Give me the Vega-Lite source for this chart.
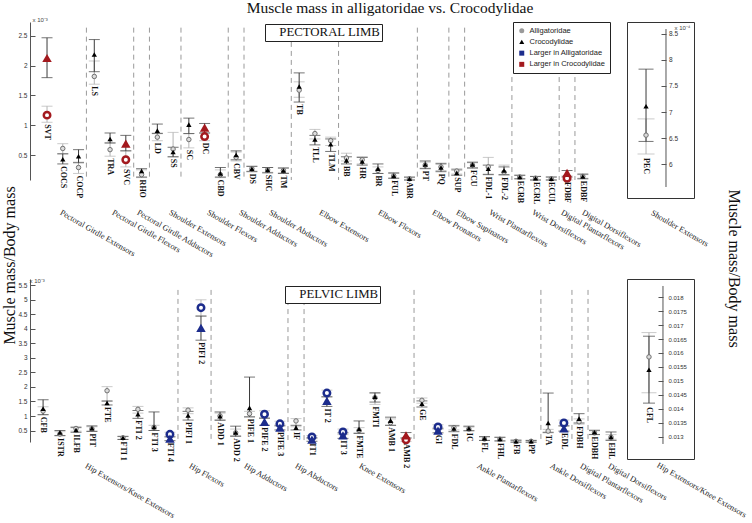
{
"$schema":"https://vega.github.io/schema/vega-lite/v6.json",
"padding":{"left":1,"top":0,"right":0,"bottom":0},
"background":"white",
"title":{"text":"Muscle mass in alligatoridae vs. Crocodylidae","anchor":"start","align":"center","frame":"group","dx":360,"offset":-12,"baseline":"alphabetic","font":"Liberation Serif","fontSize":15.5,"fontWeight":"normal","color":"#111"},
"columns":2,
"spacing":{"row":81,"column":27},
"bounds":"flush",
"align":"each",
"resolve":{"scale":{"color":"independent","shape":"independent","fill":"independent"}},
"config":{"view":{"stroke":null},"axis":{"labelOverlap":false,"labelBound":false}},
"datasets":{
"top":[
{"m":"SVT","pos":1,"a":1.17,"aLo":1.05,"aHi":1.32,"c":2.13,"cLo":1.80,"cHi":2.47,"sig":"Larger in Crocodylidae"},
{"m":"COCS","pos":2,"a":0.61,"aLo":0.52,"aHi":0.69,"c":0.43,"cLo":0.35,"cHi":0.52,"sig":""},
{"m":"COCP","pos":3,"a":0.29,"aLo":0.19,"aHi":0.38,"c":0.48,"cLo":0.37,"cHi":0.59,"sig":""},
{"m":"LS","pos":4,"a":1.82,"aLo":1.69,"aHi":2.08,"c":2.19,"cLo":1.90,"cHi":2.44,"sig":""},
{"m":"TRA","pos":5,"a":0.59,"aLo":0.48,"aHi":0.71,"c":0.77,"cLo":0.70,"cHi":0.87,"sig":""},
{"m":"SVC","pos":6,"a":0.42,"aLo":0.30,"aHi":0.57,"c":0.69,"cLo":0.57,"cHi":0.83,"sig":"Larger in Crocodylidae"},
{"m":"RHO","pos":7,"a":0.17,"aLo":0.12,"aHi":0.25,"c":0.23,"cLo":0.13,"cHi":0.27,"sig":""},
{"m":"LD","pos":8,"a":0.80,"aLo":0.74,"aHi":0.87,"c":0.91,"cLo":0.86,"cHi":1.02,"sig":""},
{"m":"SS","pos":9,"a":0.60,"aLo":0.47,"aHi":0.88,"c":0.55,"cLo":0.47,"cHi":0.63,"sig":""},
{"m":"SC","pos":10,"a":0.76,"aLo":0.62,"aHi":0.86,"c":1.01,"cLo":0.86,"cHi":1.12,"sig":""},
{"m":"DC","pos":11,"a":0.81,"aLo":0.74,"aHi":0.87,"c":0.96,"cLo":0.87,"cHi":1.03,"sig":"Larger in Crocodylidae"},
{"m":"CBD","pos":12,"a":0.17,"aLo":0.12,"aHi":0.25,"c":0.19,"cLo":0.13,"cHi":0.29,"sig":""},
{"m":"CBV","pos":13,"a":0.46,"aLo":0.40,"aHi":0.55,"c":0.50,"cLo":0.42,"cHi":0.57,"sig":""},
{"m":"DS","pos":14,"a":0.27,"aLo":0.23,"aHi":0.31,"c":0.27,"cLo":0.22,"cHi":0.31,"sig":""},
{"m":"SHC","pos":15,"a":0.25,"aLo":0.21,"aHi":0.29,"c":0.25,"cLo":0.20,"cHi":0.29,"sig":""},
{"m":"TM","pos":16,"a":0.24,"aLo":0.20,"aHi":0.28,"c":0.24,"cLo":0.19,"cHi":0.28,"sig":""},
{"m":"TB","pos":17,"a":1.59,"aLo":1.47,"aHi":1.73,"c":1.65,"cLo":1.39,"cHi":1.88,"sig":""},
{"m":"TLL","pos":18,"a":0.86,"aLo":0.77,"aHi":0.93,"c":0.76,"cLo":0.67,"cHi":0.83,"sig":""},
{"m":"TLM","pos":19,"a":0.74,"aLo":0.66,"aHi":0.80,"c":0.68,"cLo":0.56,"cHi":0.77,"sig":""},
{"m":"BB","pos":20,"a":0.45,"aLo":0.40,"aHi":0.53,"c":0.41,"cLo":0.35,"cHi":0.47,"sig":""},
{"m":"HR","pos":21,"a":0.42,"aLo":0.35,"aHi":0.47,"c":0.39,"cLo":0.33,"cHi":0.46,"sig":""},
{"m":"BR","pos":22,"a":0.24,"aLo":0.19,"aHi":0.30,"c":0.27,"cLo":0.19,"cHi":0.35,"sig":""},
{"m":"FUL","pos":23,"a":0.15,"aLo":0.11,"aHi":0.19,"c":0.15,"cLo":0.11,"cHi":0.20,"sig":""},
{"m":"ABR","pos":24,"a":0.10,"aLo":0.08,"aHi":0.12,"c":0.10,"cLo":0.08,"cHi":0.13,"sig":""},
{"m":"PT","pos":25,"a":0.33,"aLo":0.28,"aHi":0.38,"c":0.34,"cLo":0.27,"cHi":0.40,"sig":""},
{"m":"PQ","pos":26,"a":0.30,"aLo":0.24,"aHi":0.34,"c":0.29,"cLo":0.22,"cHi":0.36,"sig":""},
{"m":"SUP","pos":27,"a":0.23,"aLo":0.18,"aHi":0.27,"c":0.20,"cLo":0.16,"cHi":0.25,"sig":""},
{"m":"FCU","pos":28,"a":0.33,"aLo":0.29,"aHi":0.37,"c":0.34,"cLo":0.28,"cHi":0.38,"sig":""},
{"m":"FDL-1","pos":29,"a":0.30,"aLo":0.18,"aHi":0.46,"c":0.27,"cLo":0.17,"cHi":0.33,"sig":""},
{"m":"FDL-2","pos":30,"a":0.21,"aLo":0.16,"aHi":0.33,"c":0.24,"cLo":0.17,"cHi":0.30,"sig":""},
{"m":"ECRB","pos":31,"a":0.13,"aLo":0.10,"aHi":0.16,"c":0.13,"cLo":0.10,"cHi":0.16,"sig":""},
{"m":"ECRL","pos":32,"a":0.11,"aLo":0.08,"aHi":0.14,"c":0.11,"cLo":0.08,"cHi":0.14,"sig":""},
{"m":"ECUL","pos":33,"a":0.10,"aLo":0.08,"aHi":0.13,"c":0.10,"cLo":0.08,"cHi":0.13,"sig":""},
{"m":"FDBF","pos":34,"a":0.11,"aLo":0.08,"aHi":0.15,"c":0.20,"cLo":0.13,"cHi":0.24,"sig":"Larger in Crocodylidae"},
{"m":"EDBF","pos":35,"a":0.14,"aLo":0.11,"aHi":0.17,"c":0.14,"cLo":0.10,"cHi":0.18,"sig":""}
],
"topSeps":[{"pos":3.5,"top":2.64},{"pos":6.5,"top":2.64},{"pos":7.5,"top":2.64},{"pos":9.5,"top":2.64},{"pos":12.5,"top":2.64},{"pos":13.5,"top":2.64},{"pos":16.5,"top":2.40},{"pos":19.5,"top":2.40},{"pos":24.5,"top":2.64},{"pos":26.5,"top":2.64},{"pos":27.5,"top":2.64},{"pos":30.5,"top":1.81},{"pos":33.5,"top":1.81},{"pos":34.5,"top":1.81}],
"topGroups":[{"g":"Pectoral Girdle Extensors","pos":2.01},{"g":"Pectoral Girdle Flexors","pos":5.31},{"g":"Pectoral Girdle Adductors","pos":6.9},{"g":"Shoulder Extensors","pos":8.93},{"g":"Shoulder Flexors","pos":11.34},{"g":"Shoulder Adductors","pos":13.37},{"g":"Shoulder Abductors","pos":15.28},{"g":"Elbow Extensors","pos":18.45},{"g":"Elbow Flexors","pos":22.19},{"g":"Elbow Pronators","pos":25.62},{"g":"Elbow Supinators","pos":27.14},{"g":"Wrist Plantarflexors","pos":29.23},{"g":"Wrist Dorsiflexors","pos":31.96},{"g":"Digital Plantarflexors","pos":33.8},{"g":"Digital Dorsiflexors","pos":35.14}],
"bot":[
{"m":"CFB","pos":0.75,"a":1.17,"aLo":1.05,"aHi":1.32,"c":1.25,"cLo":1.04,"cHi":1.56,"sig":""},
{"m":"ISTR","pos":1.82,"a":0.38,"aLo":0.31,"aHi":0.46,"c":0.43,"cLo":0.33,"cHi":0.50,"sig":""},
{"m":"ILFB","pos":2.84,"a":0.57,"aLo":0.48,"aHi":0.64,"c":0.52,"cLo":0.44,"cHi":0.60,"sig":""},
{"m":"PIT","pos":3.85,"a":0.56,"aLo":0.48,"aHi":0.63,"c":0.58,"cLo":0.47,"cHi":0.66,"sig":""},
{"m":"FTE","pos":4.81,"a":1.87,"aLo":1.50,"aHi":2.01,"c":1.45,"cLo":1.38,"cHi":1.52,"sig":""},
{"m":"FTI 1","pos":5.82,"a":0.25,"aLo":0.20,"aHi":0.29,"c":0.25,"cLo":0.19,"cHi":0.30,"sig":""},
{"m":"FTI 2","pos":6.77,"a":1.23,"aLo":1.10,"aHi":1.33,"c":1.06,"cLo":0.92,"cHi":1.19,"sig":""},
{"m":"FTI 3","pos":7.79,"a":0.61,"aLo":0.50,"aHi":0.68,"c":0.62,"cLo":0.50,"cHi":1.14,"sig":""},
{"m":"FTI 4","pos":8.80,"a":0.37,"aLo":0.30,"aHi":0.44,"c":0.22,"cLo":0.15,"cHi":0.28,"sig":"Larger in Alligatoridae"},
{"m":"PIFI 1","pos":9.95,"a":1.20,"aLo":1.08,"aHi":1.28,"c":1.02,"cLo":0.86,"cHi":1.16,"sig":""},
{"m":"PIFI 2","pos":10.77,"a":4.73,"aLo":4.44,"aHi":5.00,"c":4.03,"cLo":3.61,"cHi":4.44,"sig":"Larger in Alligatoridae"},
{"m":"ADD 1","pos":11.98,"a":1.00,"aLo":0.88,"aHi":1.10,"c":0.99,"cLo":0.85,"cHi":1.14,"sig":""},
{"m":"ADD 2","pos":12.97,"a":0.42,"aLo":0.33,"aHi":0.55,"c":0.43,"cLo":0.30,"cHi":0.65,"sig":""},
{"m":"PIFE 1","pos":13.85,"a":1.08,"aLo":0.97,"aHi":1.16,"c":1.28,"cLo":0.97,"cHi":2.34,"sig":""},
{"m":"PIFE 2","pos":14.80,"a":1.06,"aLo":0.95,"aHi":1.18,"c":0.80,"cLo":0.68,"cHi":0.92,"sig":"Larger in Alligatoridae"},
{"m":"PIFE 3","pos":15.78,"a":0.73,"aLo":0.64,"aHi":0.82,"c":0.60,"cLo":0.52,"cHi":0.68,"sig":"Larger in Alligatoridae"},
{"m":"IF","pos":16.80,"a":0.83,"aLo":0.63,"aHi":0.91,"c":0.60,"cLo":0.52,"cHi":0.68,"sig":""},
{"m":"IT1","pos":17.81,"a":0.28,"aLo":0.22,"aHi":0.33,"c":0.19,"cLo":0.13,"cHi":0.25,"sig":"Larger in Alligatoridae"},
{"m":"IT 2","pos":18.76,"a":1.79,"aLo":1.66,"aHi":1.89,"c":1.52,"cLo":1.33,"cHi":1.66,"sig":"Larger in Alligatoridae"},
{"m":"IT 3","pos":19.78,"a":0.45,"aLo":0.36,"aHi":0.55,"c":0.33,"cLo":0.23,"cHi":0.42,"sig":"Larger in Alligatoridae"},
{"m":"FMTE","pos":20.80,"a":0.50,"aLo":0.42,"aHi":0.60,"c":0.55,"cLo":0.40,"cHi":0.83,"sig":""},
{"m":"FMTI","pos":21.81,"a":1.63,"aLo":1.40,"aHi":1.78,"c":1.66,"cLo":1.48,"cHi":1.80,"sig":""},
{"m":"AMB 1","pos":22.80,"a":0.77,"aLo":0.68,"aHi":0.90,"c":0.84,"cLo":0.68,"cHi":0.96,"sig":""},
{"m":"AMB 2","pos":23.78,"a":0.18,"aLo":0.12,"aHi":0.25,"c":0.33,"cLo":0.24,"cHi":0.43,"sig":"Larger in Crocodylidae"},
{"m":"GE","pos":24.79,"a":1.54,"aLo":1.44,"aHi":1.62,"c":1.42,"cLo":1.31,"cHi":1.52,"sig":""},
{"m":"GI","pos":25.81,"a":0.62,"aLo":0.54,"aHi":0.70,"c":0.50,"cLo":0.42,"cHi":0.58,"sig":"Larger in Alligatoridae"},
{"m":"FDL","pos":26.82,"a":0.60,"aLo":0.52,"aHi":0.68,"c":0.57,"cLo":0.46,"cHi":0.66,"sig":""},
{"m":"IC","pos":27.77,"a":0.55,"aLo":0.50,"aHi":0.62,"c":0.57,"cLo":0.49,"cHi":0.65,"sig":""},
{"m":"FL","pos":28.76,"a":0.21,"aLo":0.16,"aHi":0.28,"c":0.23,"cLo":0.16,"cHi":0.29,"sig":""},
{"m":"FHL","pos":29.74,"a":0.20,"aLo":0.15,"aHi":0.26,"c":0.21,"cLo":0.14,"cHi":0.27,"sig":""},
{"m":"FB","pos":30.76,"a":0.13,"aLo":0.10,"aHi":0.16,"c":0.13,"cLo":0.10,"cHi":0.17,"sig":""},
{"m":"PP","pos":31.72,"a":0.13,"aLo":0.10,"aHi":0.16,"c":0.13,"cLo":0.10,"cHi":0.16,"sig":""},
{"m":"TA","pos":32.80,"a":0.48,"aLo":0.42,"aHi":0.54,"c":0.76,"cLo":0.44,"cHi":1.79,"sig":""},
{"m":"EDL","pos":33.80,"a":0.76,"aLo":0.66,"aHi":0.86,"c":0.57,"cLo":0.48,"cHi":0.66,"sig":"Larger in Alligatoridae"},
{"m":"FDBH","pos":34.76,"a":0.80,"aLo":0.72,"aHi":0.90,"c":0.91,"cLo":0.76,"cHi":1.08,"sig":""},
{"m":"EDBH","pos":35.74,"a":0.42,"aLo":0.37,"aHi":0.49,"c":0.44,"cLo":0.36,"cHi":0.51,"sig":""},
{"m":"EHL","pos":36.79,"a":0.27,"aLo":0.20,"aHi":0.36,"c":0.28,"cLo":0.16,"cHi":0.45,"sig":""}
],
"botSeps":[{"pos":9.31,"top":5.34},{"pos":11.41,"top":5.34},{"pos":16.29,"top":4.99},{"pos":17.31,"top":4.99},{"pos":24.29,"top":5.34},{"pos":32.34,"top":5.34},{"pos":34.31,"top":5.34},{"pos":35.33,"top":5.34}],
"botGroups":[{"g":"Hip Extensors/Knee Extensors","pos":3.60},{"g":"Hip Flexors","pos":10.20},{"g":"Hip Adductors","pos":13.69},{"g":"Hip Abductors","pos":16.93},{"g":"Knee Extensors","pos":20.99},{"g":"Ankle Plantarflexors","pos":28.47},{"g":"Ankle Dorsiflexors","pos":33.11},{"g":"Digital Plantarflexors","pos":35.01},{"g":"Digital Dorsiflexors","pos":36.79}],
"pec":[{"m":"PEC","pos":0.284,"a":6.56,"aLo":6.20,"aHi":6.87,"c":7.11,"cLo":6.44,"cHi":7.82}],
"cfl":[{"m":"CFL","pos":0.328,"a":0.01586,"aLo":0.01458,"aHi":0.01673,"c":0.0154,"cLo":0.01421,"cHi":0.0166}]
},
"concat":[
{
"width":570,"height":158,
"data":{"name":"top"},
"layer":[
{"data":{"name":"topSeps"},"mark":{"type":"rule","strokeDash":[5,4],"color":"#9a9a9a","strokeWidth":1},
 "encoding":{
  "x":{"field":"pos","type":"quantitative","scale":{"domain":[-0.08,36.09],"nice":false,"zero":false},
   "axis":{"orient":"top","title":"x 10⁻³","domain":false,"ticks":false,"labels":false,"grid":false,"titleAngle":0,"titleAlign":"left","titleBaseline":"bottom","titleX":2,"titleY":0,"titleFont":"Liberation Sans","titleFontSize":6,"titleFontWeight":"normal","titleColor":"#444"}},
  "y":{"field":"top","type":"quantitative","scale":{"domain":[0.08,2.735],"nice":false,"zero":false},
   "axis":{"values":[0.5,1,1.5,2,2.5],"tickCount":40,"format":"~g","labelOverlap":false,"grid":false,"tickSize":-5,"tickColor":"#555","domainColor":"#555","labelFont":"Liberation Sans","labelFontSize":6.5,"labelColor":"#333","labelPadding":8,"title":"Muscle mass/Body mass","titleFont":"Liberation Serif","titleFontSize":16,"titleFontWeight":"normal","titleColor":"#111","titleAngle":-90,"titleAlign":"center","titleBaseline":"alphabetic","titleX":-16,"titleY":243}},
  "y2":{"datum":0.08}}},
{"mark":{"type":"rule","color":"#b3b3b3"},"encoding":{"x":{"field":"pos","type":"quantitative"},"y":{"field":"aLo","type":"quantitative"},"y2":{"field":"aHi"}}},
{"transform":[{"fold":["aLo","aHi"],"as":["k","v"]}],"mark":{"type":"tick","orient":"horizontal","size":11,"thickness":1,"color":"#b3b3b3"},"encoding":{"x":{"field":"pos","type":"quantitative"},"y":{"field":"v","type":"quantitative"}}},
{"mark":{"type":"rule","color":"#3a3a3a"},"encoding":{"x":{"field":"pos","type":"quantitative"},"y":{"field":"cLo","type":"quantitative"},"y2":{"field":"cHi"}}},
{"transform":[{"fold":["cLo","cHi"],"as":["k","v"]}],"mark":{"type":"tick","orient":"horizontal","size":11,"thickness":1,"color":"#3a3a3a"},"encoding":{"x":{"field":"pos","type":"quantitative"},"y":{"field":"v","type":"quantitative"}}},
{"transform":[{"filter":"datum.sig == ''"}],"mark":{"type":"point","shape":"circle","size":20,"filled":true,"fill":"#dcdcdc","stroke":"#707070","strokeWidth":1,"opacity":1},"encoding":{"x":{"field":"pos","type":"quantitative"},"y":{"field":"a","type":"quantitative"}}},
{"transform":[{"filter":"datum.sig == ''"}],"mark":{"type":"point","shape":"triangle-up","size":28,"filled":true,"color":"#000","opacity":1},"encoding":{"x":{"field":"pos","type":"quantitative"},"y":{"field":"c","type":"quantitative"}}},
{"data":{"values":[{"cat":"Alligatoridae"},{"cat":"Crocodylidae"},{"cat":"Larger in Alligatoridae"},{"cat":"Larger in Crocodylidae"}]},
 "mark":{"type":"point","filled":true,"clip":true,"opacity":1},
 "encoding":{"x":{"datum":-50,"type":"quantitative"},"y":{"datum":-50,"type":"quantitative"},
  "color":{"field":"cat","type":"nominal","scale":{"domain":["Alligatoridae","Crocodylidae","Larger in Alligatoridae","Larger in Crocodylidae"],"range":["#9a9a9a","#000000","#1c2c8c","#a3191e"]},
   "legend":{"orient":"none","legendX":483,"legendY":0,"direction":"vertical","title":null,"strokeColor":"#222","fillColor":"white","padding":5,"labelFont":"Liberation Sans","labelFontSize":7.5,"labelColor":"#222","symbolSize":25,"rowPadding":2.2,"labelOffset":4,"symbolStrokeWidth":0}},
  "shape":{"field":"cat","type":"nominal","scale":{"domain":["Alligatoridae","Crocodylidae","Larger in Alligatoridae","Larger in Crocodylidae"],"range":["circle","triangle-up","square","square"]},
   "legend":{"orient":"none","legendX":483,"legendY":0,"direction":"vertical","title":null,"strokeColor":"#222","fillColor":"white","padding":5,"labelFont":"Liberation Sans","labelFontSize":7.5,"labelColor":"#222","symbolSize":25,"rowPadding":2.2,"labelOffset":4,"symbolStrokeWidth":0}}}},
{"transform":[{"filter":"datum.sig != ''"}],"mark":{"type":"point","shape":"circle","size":42,"filled":false,"fill":"white","strokeWidth":2.5,"opacity":1},"encoding":{"x":{"field":"pos","type":"quantitative"},"y":{"field":"a","type":"quantitative"},"color":{"field":"sig","type":"nominal"}}},
{"transform":[{"filter":"datum.sig != ''"}],"mark":{"type":"point","shape":"triangle-up","size":90,"filled":true,"opacity":1},"encoding":{"x":{"field":"pos","type":"quantitative"},"y":{"field":"c","type":"quantitative"},"color":{"field":"sig","type":"nominal"}}},
{"transform":[{"calculate":"min(datum.aLo, datum.cLo)","as":"low"}],"mark":{"type":"text","angle":90,"align":"left","baseline":"middle","dx":2,"font":"Liberation Serif","fontSize":8,"fontWeight":"bold","color":"#111"},"encoding":{"x":{"field":"pos","type":"quantitative"},"y":{"field":"low","type":"quantitative"},"text":{"field":"m"}}},
{"data":{"name":"topGroups"},"mark":{"type":"text","angle":30,"align":"left","baseline":"top","font":"Liberation Serif","fontSize":8.3,"color":"#222"},"encoding":{"x":{"field":"pos","type":"quantitative"},"y":{"datum":-0.39,"type":"quantitative"},"text":{"field":"g"}}},
{"data":{"values":[{"limb":"PECTORAL LIMB"}]},
 "mark":{"type":"point","clip":true},
 "encoding":{"x":{"datum":-50,"type":"quantitative"},"y":{"datum":-50,"type":"quantitative"},
  "fill":{"field":"limb","type":"nominal","scale":{"range":["white"]},
   "legend":{"orient":"none","legendX":235,"legendY":2,"direction":"vertical","title":null,"strokeColor":"#222","fillColor":"white","padding":1.5,"labelFont":"Liberation Serif","labelFontSize":12.8,"labelColor":"#111","symbolSize":0,"symbolStrokeWidth":0,"symbolOpacity":0,"labelOffset":0}}}}
]
},
{
"width":67,"height":176,
"view":{"stroke":"#333","strokeWidth":1},
"data":{"name":"pec"},
"layer":[
{"mark":{"type":"rule","color":"#555"},
 "encoding":{
  "x":{"datum":0.582,"type":"quantitative","scale":{"domain":[0,1],"nice":false,"zero":false},
   "axis":{"orient":"top","title":"Muscle mass/Body mass","domain":false,"ticks":false,"labels":false,"grid":false,"titleFont":"Liberation Serif","titleFontSize":16,"titleFontWeight":"normal","titleColor":"#111","titleAngle":90,"titleAlign":"center","titleBaseline":"alphabetic","titleX":101,"titleY":246}},
  "y":{"datum":5.57,"type":"quantitative","scale":{"domain":[5.36,8.72],"nice":false,"zero":false},
   "axis":{"orient":"right","offset":-28,"values":[6,6.5,7,7.5,8,8.5],"tickCount":40,"format":"~g","labelOverlap":false,"domain":false,"grid":false,"tickSize":-5,"tickColor":"#555","labelFont":"Liberation Sans","labelFontSize":6.5,"labelColor":"#333","labelPadding":7.5,"title":"x 10⁻⁴","titleAngle":0,"titleAlign":"left","titleBaseline":"bottom","titleX":8,"titleY":8,"titleFont":"Liberation Sans","titleFontSize":6,"titleFontWeight":"normal","titleColor":"#444"}},
  "y2":{"datum":8.586}}},
{"mark":{"type":"rule","color":"#b3b3b3"},"encoding":{"x":{"field":"pos","type":"quantitative"},"y":{"field":"aLo","type":"quantitative"},"y2":{"field":"aHi"}}},
{"transform":[{"fold":["aLo","aHi"],"as":["k","v"]}],"mark":{"type":"tick","orient":"horizontal","size":17,"thickness":1,"color":"#b3b3b3"},"encoding":{"x":{"field":"pos","type":"quantitative"},"y":{"field":"v","type":"quantitative"}}},
{"mark":{"type":"rule","color":"#3a3a3a"},"encoding":{"x":{"field":"pos","type":"quantitative"},"y":{"field":"cLo","type":"quantitative"},"y2":{"field":"cHi"}}},
{"transform":[{"fold":["cLo","cHi"],"as":["k","v"]}],"mark":{"type":"tick","orient":"horizontal","size":15,"thickness":1,"color":"#3a3a3a"},"encoding":{"x":{"field":"pos","type":"quantitative"},"y":{"field":"v","type":"quantitative"}}},
{"mark":{"type":"point","shape":"circle","size":20,"filled":true,"fill":"#dcdcdc","stroke":"#707070","strokeWidth":1,"opacity":1},"encoding":{"x":{"field":"pos","type":"quantitative"},"y":{"field":"a","type":"quantitative"}}},
{"mark":{"type":"point","shape":"triangle-up","size":28,"filled":true,"color":"#000","opacity":1},"encoding":{"x":{"field":"pos","type":"quantitative"},"y":{"field":"c","type":"quantitative"}}},
{"transform":[{"calculate":"min(datum.aLo, datum.cLo)","as":"low"}],"mark":{"type":"text","angle":90,"align":"left","baseline":"middle","dx":4,"font":"Liberation Serif","fontSize":8,"fontWeight":"bold","color":"#111"},"encoding":{"x":{"field":"pos","type":"quantitative"},"y":{"field":"low","type":"quantitative"},"text":{"field":"m"}}},
{"data":{"values":[{"g":"Shoulder Extensors","pos":0.403}]},"mark":{"type":"text","angle":30,"align":"left","baseline":"top","font":"Liberation Serif","fontSize":8.3,"color":"#222"},"encoding":{"x":{"field":"pos","type":"quantitative"},"y":{"datum":5.16,"type":"quantitative"},"text":{"field":"g"}}}
]
},
{
"width":570,"height":163,
"data":{"name":"bot"},
"layer":[
{"data":{"name":"botSeps"},"mark":{"type":"rule","strokeDash":[5,4],"color":"#9a9a9a","strokeWidth":1},
 "encoding":{
  "x":{"field":"pos","type":"quantitative","scale":{"domain":[-0.08,36.09],"nice":false,"zero":false},"axis":null},
  "y":{"field":"top","type":"quantitative","scale":{"domain":[0.105,5.716],"nice":false,"zero":false},
   "axis":{"values":[0.5,1,1.5,2,2.5,3,3.5,4,4.5,5,5.5],"tickCount":40,"format":"~g","labelOverlap":false,"grid":false,"tickSize":-5,"tickColor":"#555","domainColor":"#555","labelFont":"Liberation Sans","labelFontSize":6.5,"labelColor":"#333","labelPadding":8,"title":"x 10⁻³","titleAngle":0,"titleAlign":"left","titleBaseline":"bottom","titleX":-1,"titleY":4,"titleFont":"Liberation Sans","titleFontSize":6,"titleFontWeight":"normal","titleColor":"#444"}},
  "y2":{"datum":0.105}}},
{"mark":{"type":"rule","color":"#b3b3b3"},"encoding":{"x":{"field":"pos","type":"quantitative"},"y":{"field":"aLo","type":"quantitative"},"y2":{"field":"aHi"}}},
{"transform":[{"fold":["aLo","aHi"],"as":["k","v"]}],"mark":{"type":"tick","orient":"horizontal","size":11,"thickness":1,"color":"#b3b3b3"},"encoding":{"x":{"field":"pos","type":"quantitative"},"y":{"field":"v","type":"quantitative"}}},
{"mark":{"type":"rule","color":"#3a3a3a"},"encoding":{"x":{"field":"pos","type":"quantitative"},"y":{"field":"cLo","type":"quantitative"},"y2":{"field":"cHi"}}},
{"transform":[{"fold":["cLo","cHi"],"as":["k","v"]}],"mark":{"type":"tick","orient":"horizontal","size":11,"thickness":1,"color":"#3a3a3a"},"encoding":{"x":{"field":"pos","type":"quantitative"},"y":{"field":"v","type":"quantitative"}}},
{"transform":[{"filter":"datum.sig == ''"}],"mark":{"type":"point","shape":"circle","size":20,"filled":true,"fill":"#dcdcdc","stroke":"#707070","strokeWidth":1,"opacity":1},"encoding":{"x":{"field":"pos","type":"quantitative"},"y":{"field":"a","type":"quantitative"}}},
{"transform":[{"filter":"datum.sig == ''"}],"mark":{"type":"point","shape":"triangle-up","size":28,"filled":true,"color":"#000","opacity":1},"encoding":{"x":{"field":"pos","type":"quantitative"},"y":{"field":"c","type":"quantitative"}}},
{"transform":[{"filter":"datum.sig != ''"}],"mark":{"type":"point","shape":"circle","size":42,"filled":false,"fill":"white","strokeWidth":2.5,"opacity":1},"encoding":{"x":{"field":"pos","type":"quantitative"},"y":{"field":"a","type":"quantitative"},"color":{"field":"sig","type":"nominal","scale":{"domain":["Alligatoridae","Crocodylidae","Larger in Alligatoridae","Larger in Crocodylidae"],"range":["#9a9a9a","#000000","#1c2c8c","#a3191e"]},"legend":null}}},
{"transform":[{"filter":"datum.sig != ''"}],"mark":{"type":"point","shape":"triangle-up","size":90,"filled":true,"opacity":1},"encoding":{"x":{"field":"pos","type":"quantitative"},"y":{"field":"c","type":"quantitative"},"color":{"field":"sig","type":"nominal","legend":null}}},
{"transform":[{"calculate":"min(datum.aLo, datum.cLo)","as":"low"}],"mark":{"type":"text","angle":90,"align":"left","baseline":"middle","dx":2,"font":"Liberation Serif","fontSize":8,"fontWeight":"bold","color":"#111"},"encoding":{"x":{"field":"pos","type":"quantitative"},"y":{"field":"low","type":"quantitative"},"text":{"field":"m"}}},
{"data":{"name":"botGroups"},"mark":{"type":"text","angle":30,"align":"left","baseline":"top","font":"Liberation Serif","fontSize":8.3,"color":"#222"},"encoding":{"x":{"field":"pos","type":"quantitative"},"y":{"datum":-0.56,"type":"quantitative"},"text":{"field":"g"}}},
{"data":{"values":[{"limb":"PELVIC LIMB"}]},
 "mark":{"type":"point","clip":true},
 "encoding":{"x":{"datum":-50,"type":"quantitative"},"y":{"datum":-50,"type":"quantitative"},
  "fill":{"field":"limb","type":"nominal","scale":{"range":["white"]},
   "legend":{"orient":"none","legendX":255,"legendY":7,"direction":"vertical","title":null,"strokeColor":"#222","fillColor":"white","padding":1.5,"labelFont":"Liberation Serif","labelFontSize":12.8,"labelColor":"#111","symbolSize":0,"symbolStrokeWidth":0,"symbolOpacity":0,"labelOffset":0}}}}
]
},
{
"width":67,"height":180,
"view":{"stroke":"#333","strokeWidth":1},
"data":{"name":"cfl"},
"layer":[
{"mark":{"type":"rule","color":"#555"},
 "encoding":{
  "x":{"datum":0.537,"type":"quantitative","scale":{"domain":[0,1],"nice":false,"zero":false},"axis":null},
  "y":{"datum":0.01275,"type":"quantitative","scale":{"domain":[0.012214,0.018643],"nice":false,"zero":false},
   "axis":{"orient":"right","offset":-31,"values":[0.013,0.0135,0.014,0.0145,0.015,0.0155,0.016,0.0165,0.017,0.0175,0.018],"tickCount":40,"format":"~g","labelOverlap":false,"domain":false,"grid":false,"tickSize":-5,"tickColor":"#555","labelFont":"Liberation Sans","labelFontSize":6,"labelColor":"#333","labelPadding":10,"title":null}},
  "y2":{"datum":0.018393}}},
{"mark":{"type":"rule","color":"#b3b3b3"},"encoding":{"x":{"field":"pos","type":"quantitative"},"y":{"field":"aLo","type":"quantitative"},"y2":{"field":"aHi"}}},
{"transform":[{"fold":["aLo","aHi"],"as":["k","v"]}],"mark":{"type":"tick","orient":"horizontal","size":15,"thickness":1,"color":"#b3b3b3"},"encoding":{"x":{"field":"pos","type":"quantitative"},"y":{"field":"v","type":"quantitative"}}},
{"mark":{"type":"rule","color":"#3a3a3a"},"encoding":{"x":{"field":"pos","type":"quantitative"},"y":{"field":"cLo","type":"quantitative"},"y2":{"field":"cHi"}}},
{"transform":[{"fold":["cLo","cHi"],"as":["k","v"]}],"mark":{"type":"tick","orient":"horizontal","size":12,"thickness":1,"color":"#3a3a3a"},"encoding":{"x":{"field":"pos","type":"quantitative"},"y":{"field":"v","type":"quantitative"}}},
{"mark":{"type":"point","shape":"circle","size":20,"filled":true,"fill":"#dcdcdc","stroke":"#707070","strokeWidth":1,"opacity":1},"encoding":{"x":{"field":"pos","type":"quantitative"},"y":{"field":"a","type":"quantitative"}}},
{"mark":{"type":"point","shape":"triangle-up","size":28,"filled":true,"color":"#000","opacity":1},"encoding":{"x":{"field":"pos","type":"quantitative"},"y":{"field":"c","type":"quantitative"}}},
{"transform":[{"calculate":"min(datum.aLo, datum.cLo)","as":"low"}],"mark":{"type":"text","angle":90,"align":"left","baseline":"middle","dx":4,"font":"Liberation Serif","fontSize":8,"fontWeight":"bold","color":"#111"},"encoding":{"x":{"field":"pos","type":"quantitative"},"y":{"field":"low","type":"quantitative"},"text":{"field":"m"}}},
{"data":{"values":[{"g":"Hip Extensors/Knee Extensors","pos":0.49}]},"mark":{"type":"text","angle":30,"align":"left","baseline":"top","font":"Liberation Serif","fontSize":8.3,"color":"#222"},"encoding":{"x":{"field":"pos","type":"quantitative"},"y":{"datum":0.01215,"type":"quantitative"},"text":{"field":"g"}}}
]
}
]
}
